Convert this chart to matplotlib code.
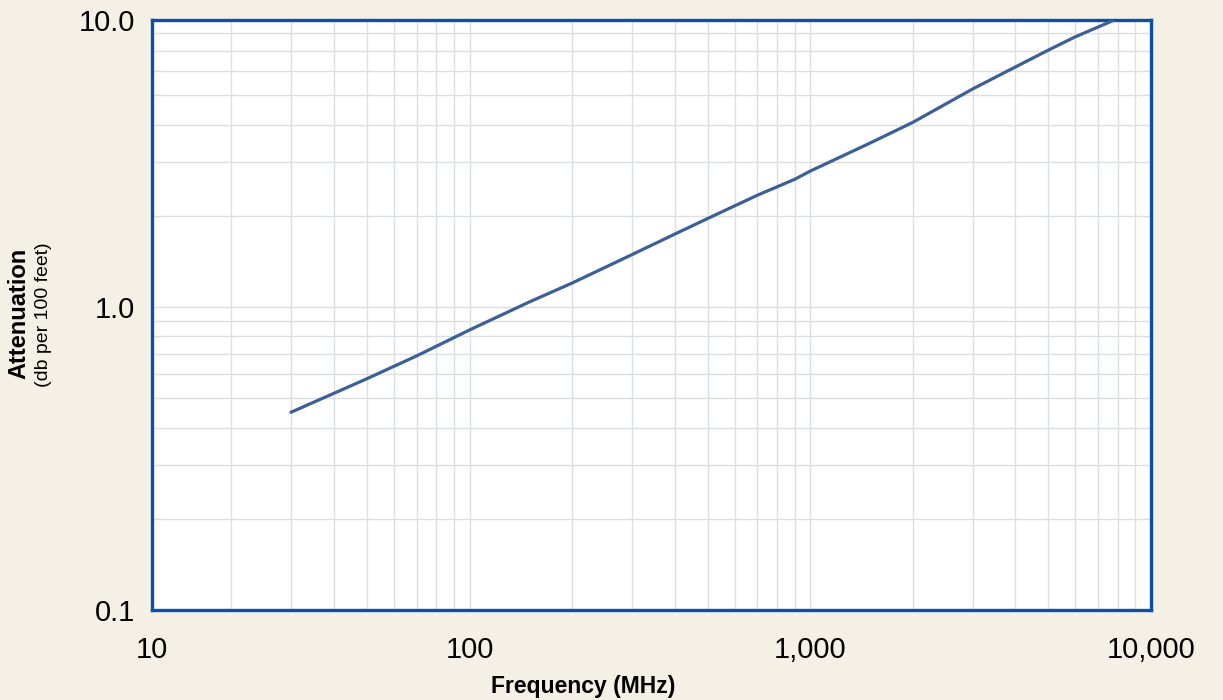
import numpy as np
import matplotlib
matplotlib.use("Agg")
import matplotlib.pyplot as plt
from matplotlib.ticker import LogLocator, NullFormatter, FixedLocator, FixedFormatter

plt.rcParams['font.family'] = ['Liberation Sans', 'DejaVu Sans']

# values
freq_mhz = [30, 50, 70, 100, 150, 200, 300, 400, 500, 700, 900, 1000,
            1500, 2000, 3000, 4000, 5000, 6000, 7700]
atten_db = [0.45, 0.58, 0.69, 0.84, 1.04, 1.20, 1.49, 1.74, 1.96, 2.34, 2.64, 2.81,
            3.48, 4.07, 5.25, 6.2, 7.05, 7.8, 8.8]

# the reference frame is cut slightly inside its labelled decades
x_range = (11.7, 10000)
y_range = (0.1, 8.86)
x_tick_labels = ['10', '100', '1,000', '10,000']
y_tick_labels = ['0.1', '1.0', '10.0']

bg = '#f4f0e6'
fig = plt.figure(figsize=(12.23, 7.0), dpi=100, facecolor=bg)
ax = fig.add_axes([152 / 1223, 90 / 700, 999 / 1223, 590 / 700])
ax.set_facecolor('white')

ax.set_xscale('log')
ax.set_yscale('log')
ax.set_xlim(*x_range)
ax.set_ylim(*y_range)

ax.plot(freq_mhz, atten_db, color='#3d5f97', lw=2.3, solid_joinstyle='round', zorder=3)

ax.xaxis.set_major_locator(FixedLocator([x_range[0], 100, 1000, 10000]))
ax.xaxis.set_major_formatter(FixedFormatter(x_tick_labels))
ax.yaxis.set_major_locator(FixedLocator([0.1, 1.0, y_range[1]]))
ax.yaxis.set_major_formatter(FixedFormatter(y_tick_labels))
ax.xaxis.set_minor_locator(LogLocator(base=10, subs=np.arange(2, 10)))
ax.yaxis.set_minor_locator(LogLocator(base=10, subs=np.arange(2, 10)))
ax.xaxis.set_minor_formatter(NullFormatter())
ax.yaxis.set_minor_formatter(NullFormatter())

ax.grid(True, which='both', color='#dcdfdf', lw=1.0, zorder=0)
ax.tick_params(which='both', length=0)
ax.tick_params(axis='x', labelsize=21, pad=19)
ax.tick_params(axis='y', labelsize=21, pad=12)

for s in ax.spines.values():
    s.set_color('#0c4fa6')
    s.set_linewidth(2.4)

fig.text(583 / 1223, 14 / 700, 'Frequency (MHz)', ha='center', va='center',
         fontsize=16.5, fontweight='bold')
fig.text(19 / 1223, 387 / 700, 'Attenuation', ha='center', va='center',
         rotation=90, fontsize=17, fontweight='bold')
fig.text(44 / 1223, 385 / 700, '(db per 100 feet)', ha='center', va='center',
         rotation=90, fontsize=14)

fig.savefig('out.png', dpi=100, facecolor=bg)
